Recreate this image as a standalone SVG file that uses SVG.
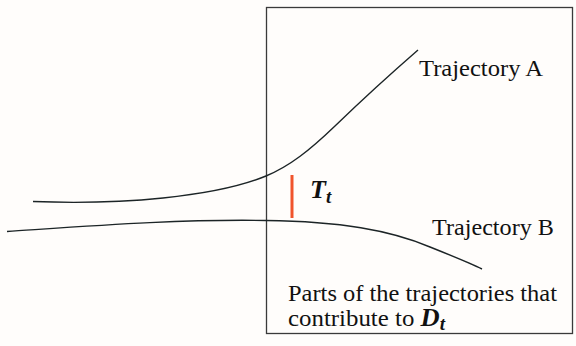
<svg xmlns="http://www.w3.org/2000/svg" width="576" height="346" viewBox="0 0 576 346">
<style>
.traj{fill:none;stroke:#1c2426;stroke-width:1.4}
.lbl{font-family:"Liberation Serif",serif;font-size:23.5px;fill:#111}
.math{font-family:"Liberation Serif",serif;font-weight:bold;font-style:italic;fill:#111}
</style>
<rect width="576" height="346" fill="#fffdfb"/>
<g id="frame"><rect x="266.5" y="7.5" width="306" height="326" fill="none" stroke="#3a3a3a" stroke-width="1.3"/></g>
<g id="connectors">
<path class="traj" d="M33,201.5 C120,205 215,197 266,176 C290,166 310,150 335,126 C365,97 395,70 418,50"/>
<path class="traj" d="M7,231.5 C90,226 180,219 266,220.5 C340,221.5 390,230 430,247 C455,257 470,263 482,269"/>
</g>
<g id="gap"><line x1="292" y1="175" x2="292" y2="218" stroke="#f0542c" stroke-width="3"/>
<text class="math" x="310" y="198" font-size="26">T<tspan font-size="19" dy="5">t</tspan></text></g>
<g id="trajA"><text class="lbl" x="419" y="76" textLength="124" lengthAdjust="spacingAndGlyphs">Trajectory A</text></g>
<g id="trajB"><text class="lbl" x="432" y="235" textLength="122" lengthAdjust="spacingAndGlyphs">Trajectory B</text></g>
<g id="note"><text class="lbl" x="288" y="301" textLength="269" lengthAdjust="spacingAndGlyphs">Parts of the trajectories that</text>
<text class="lbl" x="288" y="326" textLength="157" lengthAdjust="spacingAndGlyphs">contribute to <tspan class="math" font-size="25">D<tspan font-size="18" dy="4">t</tspan></tspan></text></g>
</svg>
